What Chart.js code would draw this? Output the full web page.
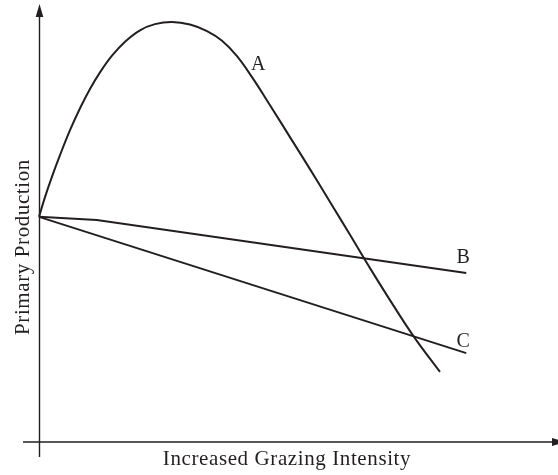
<!DOCTYPE html>
<html>
<head>
<meta charset="utf-8">
<script src="https://cdn.jsdelivr.net/npm/chart.js@4/dist/chart.umd.min.js"></script>
<style>
  html, body { margin: 0; padding: 0; background: #fff; }
  #wrap { width: 558px; height: 475px; }
</style>
</head>
<body>
<div id="wrap"><canvas id="grafico"></canvas></div>
<script>
// curva A: produccion que sube con pastoreo moderado y cae despues
const curvaAx = [0, 1.16, 2.52, 4.07, 6.01, 7.95, 9.88, 11.82, 14.15, 16.67, 19.57, 22.48, 25.78,
                 29.26, 32.56, 35.47, 38.37, 41.28, 44.77, 48.64, 52.52, 56.40, 60.27, 64.15, 68.02, 72.67, 77.71];
const curvaAy = [51.4, 55.9, 60.6, 65.5, 71.2, 76.2, 80.6, 84.4, 88.2, 91.4, 94.0, 95.4, 95.9,
                 95.3, 93.8, 91.6, 88.1, 83.3, 76.9, 69.6, 62.3, 54.8, 47.3, 39.7, 32.4, 24.0, 16.0];
// recta B (con quiebre) y recta C
const rectaBx = [0, 11.2, 82.8];
const rectaBy = [51.4, 50.7, 38.6];
const rectaCx = [0, 82.8];
const rectaCy = [51.4, 20.3];

const etiquetas = ["A", "B", "C"];
const etiquetasX = [42.5, 82.2, 82.2];
const etiquetasY = [84.9, 40.9, 21.7];

const tituloX = "Increased Grazing Intensity";
const tituloY = "Primary Production";

const TINTA = "#231f20";
const SERIF = '"Liberation Serif", "DejaVu Serif", serif';

const puntos = (xs, ys) => xs.map((x, i) => ({ x, y: ys[i] }));

// ejes con flechas, titulos y letras de las curvas
const ejesPlugin = {
  id: "ejes",
  afterDatasetsDraw(chart) {
    const { ctx, scales } = chart;
    const x0 = scales.x.getPixelForValue(0);
    const y0 = scales.y.getPixelForValue(0);
    const yTop = scales.y.getPixelForValue(100);
    const xEnd = scales.x.getPixelForValue(100);

    ctx.save();
    ctx.strokeStyle = TINTA;
    ctx.fillStyle = TINTA;
    ctx.lineWidth = 1.4;

    ctx.beginPath();
    ctx.moveTo(x0 + 0.5, y0 + 15);
    ctx.lineTo(x0 + 0.5, yTop + 12);
    ctx.moveTo(x0 - 16, y0);
    ctx.lineTo(xEnd - 2, y0);
    ctx.stroke();

    // flecha vertical
    ctx.beginPath();
    ctx.moveTo(x0 + 0.5, yTop);
    ctx.lineTo(x0 + 4.3, yTop + 13);
    ctx.lineTo(x0 - 3.3, yTop + 13);
    ctx.closePath();
    ctx.fill();

    // flecha horizontal
    ctx.beginPath();
    ctx.moveTo(xEnd + 10, y0);
    ctx.lineTo(xEnd - 3, y0 - 4);
    ctx.lineTo(xEnd - 3, y0 + 4);
    ctx.closePath();
    ctx.fill();

    ctx.textAlign = "center";
    ctx.textBaseline = "alphabetic";
    ctx.font = "20px " + SERIF;
    etiquetas.forEach((t, i) => {
      ctx.fillText(t, scales.x.getPixelForValue(etiquetasX[i]), scales.y.getPixelForValue(etiquetasY[i]));
    });

    ctx.font = "21px " + SERIF;
    ctx.letterSpacing = "0.6px";
    ctx.fillText(tituloX, 287, 465);

    ctx.translate(29, 247);
    ctx.rotate(-Math.PI / 2);
    ctx.fillText(tituloY, 0, 0);
    ctx.restore();
  }
};

const linea = (data, tension) => ({
  data,
  showLine: true,
  borderColor: TINTA,
  borderWidth: 2,
  pointRadius: 0,
  tension,
  clip: false
});

new Chart(document.getElementById("grafico"), {
  type: "scatter",
  data: {
    datasets: [
      linea(puntos(curvaAx, curvaAy), 0.4),
      linea(puntos(rectaBx, rectaBy), 0),
      linea(puntos(rectaCx, rectaCy), 0)
    ]
  },
  options: {
    responsive: true,
    maintainAspectRatio: false,
    animation: false,
    layout: { padding: { left: 39, right: 3, top: 4, bottom: 33 } },
    plugins: { legend: { display: false }, tooltip: { enabled: false } },
    scales: {
      x: { type: "linear", min: 0, max: 100, display: false },
      y: { type: "linear", min: 0, max: 100, display: false }
    }
  },
  plugins: [ejesPlugin]
});
</script>
</body>
</html>
